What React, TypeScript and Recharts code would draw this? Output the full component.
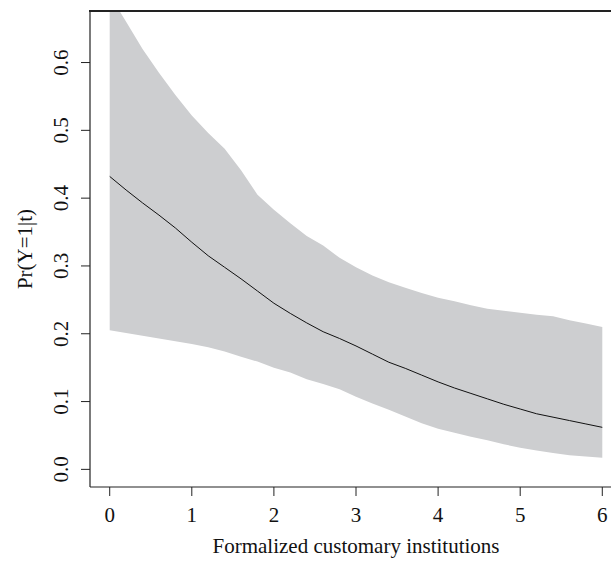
import React from "react";
import { ComposedChart, Area, Line, XAxis, YAxis, Label } from "recharts";

const xValues = [0, 0.2, 0.4, 0.6, 0.8, 1.0, 1.2, 1.4, 1.6, 1.8, 2.0, 2.2, 2.4, 2.6, 2.8, 3.0, 3.2, 3.4, 3.6, 3.8, 4.0, 4.2, 4.4, 4.6, 4.8, 5.0, 5.2, 5.4, 5.6, 5.8, 6.0];
const meanValues = [0.432, 0.412, 0.393, 0.375, 0.356, 0.335, 0.315, 0.298, 0.281, 0.263, 0.245, 0.23, 0.216, 0.203, 0.193, 0.182, 0.17, 0.158, 0.149, 0.139, 0.129, 0.12, 0.112, 0.104, 0.096, 0.089, 0.082, 0.077, 0.072, 0.067, 0.062];
const lowerValues = [0.205, 0.201, 0.197, 0.193, 0.189, 0.185, 0.18, 0.174, 0.166, 0.159, 0.15, 0.143, 0.133, 0.126, 0.118, 0.107, 0.097, 0.088, 0.078, 0.068, 0.06, 0.054, 0.048, 0.043, 0.037, 0.032, 0.028, 0.024, 0.021, 0.019, 0.017];
const upperValues = [0.7, 0.66, 0.62, 0.585, 0.552, 0.522, 0.496, 0.473, 0.441, 0.405, 0.383, 0.363, 0.344, 0.33, 0.312, 0.298, 0.286, 0.276, 0.268, 0.26, 0.253, 0.248, 0.242, 0.237, 0.234, 0.231, 0.228, 0.226, 0.22, 0.215, 0.21];

const xTicks = [0, 1, 2, 3, 4, 5, 6];
const yTicks = [0, 0.1, 0.2, 0.3, 0.4, 0.5, 0.6];
const xDomain = [-0.24, 6.24];
const yDomain = [-0.026, 0.676];
const xTitle = "Formalized customary institutions";
const yTitle = "Pr(Y=1|t)";

const data = xValues.map((x, i) => ({
  x,
  mean: meanValues[i],
  band: [lowerValues[i], upperValues[i]],
}));

const FONT = "Liberation Serif, Times New Roman, Times, DejaVu Serif, serif";
const FS = 21;
const AXIS = "#222";
const textStyle: React.CSSProperties = { fontFamily: FONT, fontSize: FS };

const XTick = (props: any) => {
  const { x, y, payload } = props;
  return (
    <text x={x} y={y + 26} textAnchor="middle" style={textStyle} fill="#111">
      {String(payload.value)}
    </text>
  );
};

const YTick = (props: any) => {
  const { x, y, payload } = props;
  const tx = x - 12.5;
  return (
    <text
      x={tx}
      y={y}
      textAnchor="middle"
      transform={`rotate(-90, ${tx}, ${y})`}
      style={textStyle}
      fill="#111"
    >
      {Number(payload.value).toFixed(1)}
    </text>
  );
};

const XTitle = (props: any) => {
  const vb = props.viewBox || {};
  return (
    <text x={vb.x + vb.width / 2} y={vb.y + 66} textAnchor="middle" style={textStyle} fill="#111">
      {xTitle}
    </text>
  );
};

const YTitle = (props: any) => {
  const vb = props.viewBox || {};
  const cx = 32;
  const cy = vb.y + vb.height / 2;
  return (
    <text
      x={cx}
      y={cy}
      textAnchor="middle"
      transform={`rotate(-90, ${cx}, ${cy})`}
      style={textStyle}
      fill="#111"
    >
      {yTitle}
    </text>
  );
};

export default function App() {
  return (
    <div style={{ position: "relative", width: 611, height: 562, overflow: "hidden", background: "#fff" }}>
      <style>{"html,body{margin:0;padding:0;overflow:hidden;}"}</style>
      <ComposedChart width={650} height={562} data={data} margin={{ top: 11, right: 28, left: 0, bottom: 0 }}>
        <XAxis
          dataKey="x"
          type="number"
          domain={xDomain}
          allowDataOverflow
          ticks={xTicks}
          tickSize={9}
          tickMargin={0}
          height={75}
          axisLine={{ stroke: AXIS, strokeWidth: 1.2 }}
          tickLine={{ stroke: AXIS, strokeWidth: 1 }}
          tick={<XTick />}
        >
          <Label content={<XTitle />} />
        </XAxis>
        <YAxis
          type="number"
          domain={yDomain}
          allowDataOverflow
          ticks={yTicks}
          width={90}
          tickSize={9}
          tickMargin={0}
          axisLine={{ stroke: AXIS, strokeWidth: 1.2 }}
          tickLine={{ stroke: AXIS, strokeWidth: 1 }}
          tick={<YTick />}
        >
          <Label content={<YTitle />} />
        </YAxis>
        <Area
          dataKey="band"
          type="linear"
          stroke="none"
          fill="#cdced0"
          fillOpacity={1}
          isAnimationActive={false}
        />
        <Line dataKey="mean" type="linear" stroke="#111" strokeWidth={1} dot={false} isAnimationActive={false} />
      </ComposedChart>
      <div style={{ position: "absolute", left: 89.4, top: 10.4, width: 560, height: 1.3, background: AXIS, zIndex: 10 }} />
    </div>
  );
}
